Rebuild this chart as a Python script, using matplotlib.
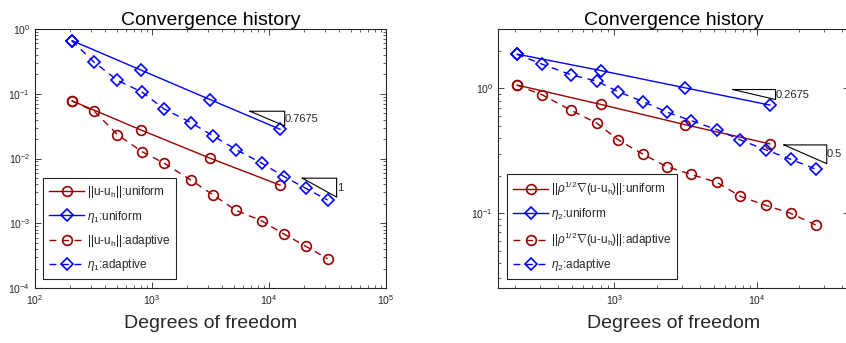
import matplotlib
matplotlib.use('Agg')
from matplotlib import pyplot as plt
import numpy as np

plt.rcParams['font.family'] = ['Liberation Sans', 'DejaVu Sans']
plt.rcParams['mathtext.fontset'] = 'custom'
plt.rcParams['mathtext.rm'] = 'Liberation Sans'
plt.rcParams['mathtext.it'] = 'Liberation Sans:italic'

# degrees of freedom
dof_uniform = [208, 800, 3136, 12416]
dof_adapt1 = [206, 321, 506, 826, 1268, 2153, 3319, 5225, 8647, 13430, 20700, 31700]
dof_adapt2 = [206, 310, 497, 750, 1067, 1603, 2328, 3475, 5272, 7709, 11640, 17380, 26060]

# left: L2 error and eta_1
err_uniform = [0.0775, 0.0277, 0.0101, 0.00388]
eta1_uniform = [0.66, 0.233, 0.0813, 0.0283]
err_adapt = [0.0775, 0.0537, 0.0234, 0.01267, 0.00848, 0.00463, 0.00275,
             0.00158, 0.00109, 0.00068, 0.00044, 0.000283]
eta1_adapt = [0.66, 0.306, 0.1615, 0.1055, 0.0583, 0.0359, 0.0224,
              0.01377, 0.00848, 0.00527, 0.00345, 0.00228]

# right: weighted energy error and eta_2
en_uniform = [1.063, 0.745, 0.512, 0.359]
eta2_uniform = [1.883, 1.393, 1.012, 0.735]
en_adapt = [1.063, 0.890, 0.667, 0.528, 0.386, 0.295, 0.236, 0.204,
            0.176, 0.136, 0.115, 0.0994, 0.0802]
eta2_adapt = [1.883, 1.566, 1.285, 1.145, 0.940, 0.782, 0.647, 0.551,
              0.467, 0.386, 0.321, 0.270, 0.225]

# slope triangles: (x_left, x_right, y_top, slope, label)
tri_left = [(6880, 13620, 0.0537, 0.7675, '0.7675'),
            (19280, 37840, 0.00497, 1.0, '1')]
tri_right = [(6808, 13620, 0.98, 0.2675, '0.2675'),
             (15600, 31190, 0.352, 0.5, '0.5')]

red = '#990000'
blue = '#0000ff'
txt = '#262626'


def style_axes(ax):
    ax.set_xscale('log')
    ax.set_yscale('log')
    ax.tick_params(which='both', direction='in', top=True, right=True,
                   labelsize=7.5, colors=txt, labelcolor=txt)
    ax.tick_params(which='major', length=4, width=0.6)
    ax.tick_params(which='minor', length=2, width=0.5)
    for s in ax.spines.values():
        s.set_color(txt)
        s.set_linewidth(0.8)
    ax.set_title('Convergence history', fontsize=14, color='black', pad=3)
    ax.set_xlabel('Degrees of freedom', fontsize=14, color=txt, labelpad=6)


def draw_triangles(ax, tris):
    for x0, x1, y0, k, lab in tris:
        y1 = y0 * (x0 / x1) ** k
        ax.plot([x0, x1, x1, x0], [y0, y0, y1, y0], color='black', lw=0.8)
        ax.text(x1, np.sqrt(y0 * y1), lab, fontsize=8, color=txt,
                ha='left', va='center')


def series(ax, x, y, c, mk, ls, lab):
    line, = ax.plot(x, y, color=c, marker=mk, ls=ls, lw=1.0,
                    ms=7 if mk == 'o' else 6,
                    mfc='none', mew=1.2, label=lab)
    if ls == '--':
        line.set_dashes((5, 4))
    return line


fig = plt.figure(figsize=(8.46, 3.43), dpi=100)
ax1 = fig.add_axes([35 / 846, 55 / 343, 351 / 846, 259 / 343])
ax2 = fig.add_axes([498 / 846, 55 / 343, 351 / 846, 259 / 343])

series(ax1, dof_uniform, err_uniform, red, 'o', '-', r'||u-u$_\mathrm{h}$||:uniform')
series(ax1, dof_uniform, eta1_uniform, blue, 'D', '-', r'$\eta_1$:uniform')
series(ax1, dof_adapt1, err_adapt, red, 'o', '--', r'||u-u$_\mathrm{h}$||:adaptive')
series(ax1, dof_adapt1, eta1_adapt, blue, 'D', '--', r'$\eta_1$:adaptive')
draw_triangles(ax1, tri_left)
style_axes(ax1)
ax1.set_xlim(1e2, 1e5)
ax1.set_ylim(1e-4, 1e0)

series(ax2, dof_uniform, en_uniform, red, 'o', '-',
       r'||$\rho^{1/2}\nabla$(u-u$_\mathrm{h}$)||:uniform')
series(ax2, dof_uniform, eta2_uniform, blue, 'D', '-', r'$\eta_2$:uniform')
series(ax2, dof_adapt2, en_adapt, red, 'o', '--',
       r'||$\rho^{1/2}\nabla$(u-u$_\mathrm{h}$)||:adaptive')
series(ax2, dof_adapt2, eta2_adapt, blue, 'D', '--', r'$\eta_2$:adaptive')
draw_triangles(ax2, tri_right)
style_axes(ax2)
ax2.set_xlim(152, 44700)
ax2.set_ylim(0.025, 3.0)

for ax, x0 in ((ax1, 0.023), (ax2, 0.026)):
    leg = ax.legend(loc='lower left', bbox_to_anchor=(x0, 0.035), borderaxespad=0,
                    fontsize=8.5, handlelength=3.0, handletextpad=0.2,
                    labelspacing=0.7, borderpad=0.5, fancybox=False,
                    edgecolor=txt, framealpha=1)
    leg.get_frame().set_linewidth(0.8)
    for t in leg.get_texts():
        t.set_color(txt)

fig.savefig('out.png', dpi=100)
